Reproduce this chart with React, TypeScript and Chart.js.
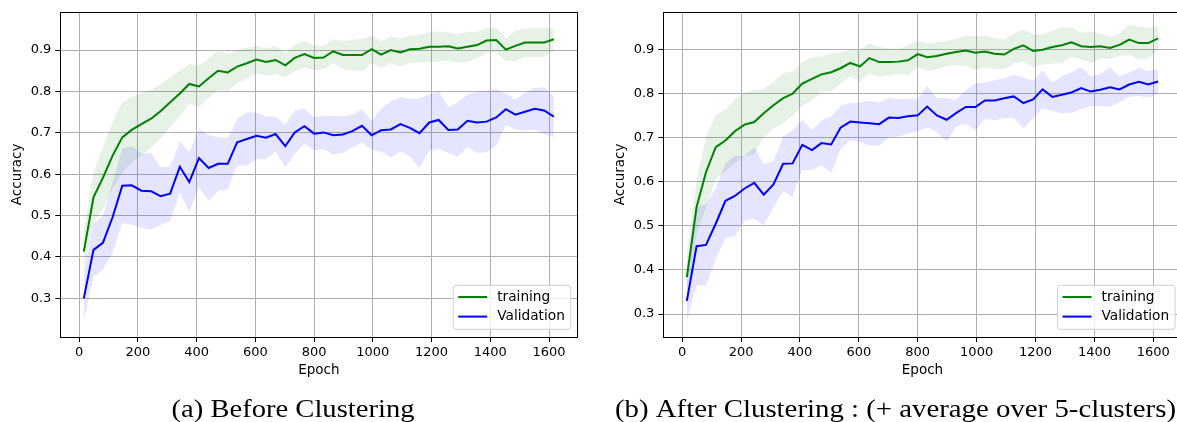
import React, { useEffect, useRef } from "react";
import { Chart, registerables } from "chart.js";
Chart.register(...registerables);

const EPOCHS = [16, 49, 81, 114, 147, 179, 212, 245, 277, 310, 343, 375, 408, 441, 473, 506, 538, 571, 604, 636, 669, 702, 734, 767, 800, 832, 865, 898, 930, 963, 996, 1028, 1061, 1094, 1126, 1159, 1192, 1224, 1257, 1289, 1322, 1355, 1387, 1420, 1453, 1485, 1518, 1551, 1583, 1616];

const X_TICKS = [0, 200, 400, 600, 800, 1000, 1200, 1400, 1600];
const Y_TICKS = [0.3, 0.4, 0.5, 0.6, 0.7, 0.8, 0.9];

// (a) Before Clustering
const A_TRAIN = [0.413, 0.544, 0.591, 0.645, 0.689, 0.707, 0.721, 0.734, 0.752, 0.774,
  0.795, 0.818, 0.812, 0.832, 0.850, 0.846, 0.860, 0.868, 0.877, 0.871,
  0.876, 0.863, 0.881, 0.890, 0.881, 0.882, 0.897, 0.888, 0.888, 0.888,
  0.902, 0.889, 0.900, 0.894, 0.902, 0.903, 0.908, 0.908, 0.909, 0.904,
  0.908, 0.912, 0.923, 0.924, 0.901, 0.910, 0.918, 0.918, 0.918, 0.926];
const A_TRAIN_STD = [0.05, 0.06, 0.075, 0.08, 0.085, 0.08, 0.075, 0.07, 0.065, 0.06,
  0.055, 0.048, 0.05, 0.047, 0.048, 0.045, 0.04, 0.037, 0.033, 0.033,
  0.033, 0.03, 0.032, 0.032, 0.03, 0.028, 0.029, 0.034, 0.037, 0.039,
  0.034, 0.032, 0.032, 0.034, 0.033, 0.034, 0.035, 0.037, 0.034, 0.034,
  0.036, 0.032, 0.03, 0.029, 0.028, 0.037, 0.034, 0.035, 0.035, 0.026];
const A_VAL = [0.300, 0.417, 0.434, 0.496, 0.572, 0.573, 0.560, 0.559, 0.547, 0.553,
  0.618, 0.581, 0.639, 0.615, 0.625, 0.625, 0.677, 0.685, 0.693, 0.688,
  0.697, 0.668, 0.701, 0.716, 0.698, 0.701, 0.694, 0.696, 0.704, 0.717,
  0.694, 0.706, 0.708, 0.721, 0.712, 0.699, 0.725, 0.731, 0.707, 0.708,
  0.729, 0.725, 0.727, 0.737, 0.757, 0.744, 0.751, 0.758, 0.754, 0.739];
const A_VAL_STD = [0.055, 0.065, 0.065, 0.085, 0.09, 0.095, 0.09, 0.093, 0.07, 0.066,
  0.062, 0.073, 0.07, 0.08, 0.065, 0.062, 0.056, 0.064, 0.056, 0.052,
  0.042, 0.052, 0.052, 0.042, 0.04, 0.041, 0.047, 0.044, 0.04, 0.04,
  0.035, 0.052, 0.068, 0.065, 0.07, 0.084, 0.068, 0.07, 0.055, 0.066,
  0.064, 0.073, 0.074, 0.068, 0.038, 0.036, 0.046, 0.05, 0.056, 0.05];

// (b) After Clustering
const B_TRAIN = [0.384, 0.543, 0.622, 0.679, 0.694, 0.715, 0.730, 0.736, 0.756, 0.774,
  0.790, 0.800, 0.823, 0.834, 0.844, 0.849, 0.858, 0.870, 0.862, 0.881,
  0.872, 0.872, 0.873, 0.876, 0.890, 0.883, 0.886, 0.891, 0.895, 0.898,
  0.893, 0.896, 0.891, 0.889, 0.902, 0.910, 0.897, 0.900, 0.906, 0.910,
  0.917, 0.908, 0.906, 0.908, 0.904, 0.911, 0.923, 0.915, 0.915, 0.926];
const B_TRAIN_STD = [0.05, 0.06, 0.08, 0.073, 0.07, 0.072, 0.073, 0.072, 0.055, 0.053,
  0.057, 0.05, 0.049, 0.049, 0.04, 0.043, 0.036, 0.03, 0.036, 0.034,
  0.034, 0.03, 0.028, 0.034, 0.03, 0.031, 0.031, 0.028, 0.03, 0.034,
  0.039, 0.036, 0.035, 0.034, 0.034, 0.036, 0.038, 0.034, 0.037, 0.04,
  0.034, 0.03, 0.036, 0.028, 0.025, 0.025, 0.034, 0.037, 0.035, 0.026];
const B_VAL = [0.330, 0.454, 0.457, 0.505, 0.557, 0.568, 0.585, 0.598, 0.571, 0.594,
  0.641, 0.642, 0.684, 0.672, 0.688, 0.685, 0.723, 0.737, 0.735, 0.733,
  0.731, 0.746, 0.745, 0.749, 0.751, 0.771, 0.751, 0.741, 0.756, 0.770,
  0.770, 0.785, 0.785, 0.790, 0.794, 0.779, 0.787, 0.810, 0.793, 0.798,
  0.803, 0.813, 0.805, 0.809, 0.815, 0.810, 0.821, 0.827, 0.821, 0.828];
const B_VAL_STD = [0.045, 0.089, 0.092, 0.08, 0.085, 0.092, 0.073, 0.081, 0.07, 0.053,
  0.062, 0.076, 0.057, 0.045, 0.051, 0.064, 0.049, 0.042, 0.045, 0.051,
  0.049, 0.045, 0.042, 0.04, 0.036, 0.047, 0.039, 0.05, 0.03, 0.038,
  0.053, 0.042, 0.045, 0.045, 0.049, 0.058, 0.043, 0.043, 0.032, 0.042,
  0.046, 0.048, 0.034, 0.036, 0.045, 0.029, 0.028, 0.032, 0.03, 0.028];

const SANS = '"DejaVu Sans", sans-serif';
const H = 422;
const W = 590;

type PanelProps = {
  left: number;
  plotRight: number;
  yMin: number;
  yMax: number;
  train: number[];
  trainStd: number[];
  val: number[];
  valStd: number[];
  caption: string;
  captionX: number;
  captionW: number;
};

function Panel(p: PanelProps) {
  const ref = useRef<HTMLCanvasElement>(null);
  useEffect(() => {
    const canvas = ref.current!;
    const pts = (m: number[], s: number[] | null, sign: number) =>
      m.map((v, i) => ({ x: EPOCHS[i], y: v + (s ? sign * s[i] : 0) }));
    const band = { borderWidth: 0, pointRadius: 0, borderColor: "rgba(0,0,0,0)", tension: 0 };

    const decor = {
      id: "decor",
      afterDraw(chart: any) {
        const ctx = chart.ctx as CanvasRenderingContext2D;
        const ca = chart.chartArea;
        ctx.save();
        // spines
        ctx.strokeStyle = "#000";
        ctx.lineWidth = 1;
        ctx.strokeRect(Math.round(ca.left) + 0.5, Math.round(ca.top) + 0.5,
          Math.round(ca.right) - Math.round(ca.left), Math.round(ca.bottom) - Math.round(ca.top));
        // legend
        ctx.font = `13.7px ${SANS}`;
        const tw = Math.max(ctx.measureText("training").width, ctx.measureText("Validation").width);
        const w = 44 + tw + 6;
        const h = 44;
        const x0 = ca.right - 6.5 - w;
        const y0 = ca.bottom - 7.7 - h;
        ctx.beginPath();
        (ctx as any).roundRect(x0, y0, w, h, 3);
        ctx.fillStyle = "rgba(255,255,255,0.8)";
        ctx.fill();
        ctx.strokeStyle = "#d0d0d0";
        ctx.lineWidth = 1;
        ctx.stroke();
        const items: [string, string, number][] = [["training", "#008000", 11.7], ["Validation", "#0000ff", 31.3]];
        for (const [lab, col, dy] of items) {
          ctx.beginPath();
          ctx.strokeStyle = col;
          ctx.lineWidth = 2;
          ctx.moveTo(x0 + 5, y0 + dy);
          ctx.lineTo(x0 + 34, y0 + dy);
          ctx.stroke();
          ctx.fillStyle = "#000";
          ctx.textAlign = "left";
          ctx.textBaseline = "middle";
          ctx.fillText(lab, x0 + 44, y0 + dy);
        }
        // caption
        ctx.font = `25px "Liberation Serif", serif`;
        ctx.textAlign = "center";
        ctx.textBaseline = "alphabetic";
        ctx.fillStyle = "#000";
        const cw = ctx.measureText(p.caption).width;
        ctx.translate(p.captionX, 416.5);
        ctx.scale(p.captionW / cw, 1);
        ctx.fillText(p.caption, 0, 0);
        ctx.restore();
      },
    };

    const chart = new Chart(canvas, {
      type: "line",
      data: {
        datasets: [
          { label: "Validation", data: pts(p.val, null, 0), borderColor: "#0000ff", borderWidth: 2, pointRadius: 0, fill: false, tension: 0 },
          { label: "training", data: pts(p.train, null, 0), borderColor: "#008000", borderWidth: 2, pointRadius: 0, fill: false, tension: 0 },
          { label: "vu", data: pts(p.val, p.valStd, 1), fill: false, ...band },
          { label: "vl", data: pts(p.val, p.valStd, -1), fill: "-1", backgroundColor: "rgba(0,0,255,0.1)", ...band },
          { label: "tu", data: pts(p.train, p.trainStd, 1), fill: false, ...band },
          { label: "tl", data: pts(p.train, p.trainStd, -1), fill: "-1", backgroundColor: "rgba(0,128,0,0.1)", ...band },
        ] as any,
      },
      options: {
        responsive: false,
        animation: false,
        devicePixelRatio: 1,
        events: [],
        layout: { padding: { left: 0, top: 11, right: W - p.plotRight, bottom: 40 } },
        plugins: { legend: { display: false }, tooltip: { enabled: false } },
        scales: {
          x: {
            type: "linear",
            min: -64,
            max: 1696,
            afterBuildTicks: (s: any) => { s.ticks = X_TICKS.map((v) => ({ value: v })); },
            afterFit: (s: any) => { s.height = 45; },
            grid: { color: "#b0b0b0", lineWidth: 1, tickLength: 5, tickColor: "#000", tickWidth: 1 },
            border: { display: false },
            ticks: { font: { family: SANS, size: 13 }, color: "#000", padding: 3, maxRotation: 0, autoSkip: false, callback: (v: any) => String(v) },
            title: { display: true, text: "Epoch", font: { family: SANS, size: 13.5 }, color: "#000", padding: { top: 0, bottom: 3 } },
          },
          y: {
            type: "linear",
            min: p.yMin,
            max: p.yMax,
            afterBuildTicks: (s: any) => { s.ticks = Y_TICKS.map((v) => ({ value: v })); },
            afterFit: (s: any) => { s.width = 60.3; },
            grid: { color: "#b0b0b0", lineWidth: 1, tickLength: 5, tickColor: "#000", tickWidth: 1 },
            border: { display: false },
            ticks: { font: { family: SANS, size: 13 }, color: "#000", padding: 4, callback: (v: any) => Number(v).toFixed(1) },
            title: { display: true, text: "Accuracy", font: { family: SANS, size: 13.5 }, color: "#000", padding: { top: 9, bottom: 0 } },
          },
        },
      } as any,
      plugins: [decor],
    });
    return () => chart.destroy();
  }, []);
  return (
    <canvas
      ref={ref}
      width={W}
      height={H}
      style={{ position: "absolute", left: p.left, top: 0, width: W, height: H }}
    />
  );
}

export default function App() {
  return (
    <div style={{ position: "absolute", left: 0, top: 0, width: 1177, height: 422, overflow: "hidden", background: "#fff" }}>
      <Panel left={0} plotRight={577.3} yMin={0.2066} yMax={0.9924}
        train={A_TRAIN} trainStd={A_TRAIN_STD} val={A_VAL} valStd={A_VAL_STD}
        caption="(a) Before Clustering" captionX={293} captionW={243} />
      <Panel left={603} plotRight={578.6} yMin={0.2479} yMax={0.9861}
        train={B_TRAIN} trainStd={B_TRAIN_STD} val={B_VAL} valStd={B_VAL_STD}
        caption="(b) After Clustering : (+ average over 5-clusters)" captionX={292.5} captionW={561} />
    </div>
  );
}
